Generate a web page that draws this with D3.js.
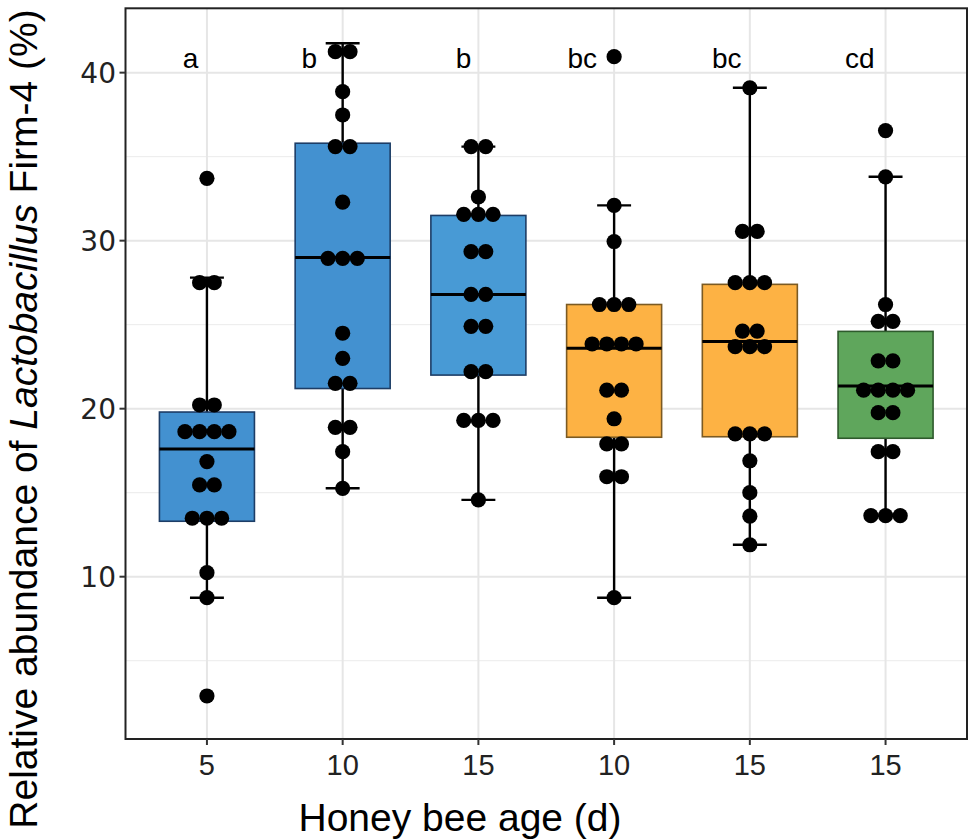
<!DOCTYPE html>
<html>
<head>
<meta charset="utf-8">
<script src="https://cdn.jsdelivr.net/npm/d3@7"></script>
<style>
  html, body { margin: 0; padding: 0; background: #fff; }
  svg { display: block; }
</style>
</head>
<body>
<svg id="chart" width="968" height="839"></svg>
<script>
// ---------- data ----------
const categories = ["5", "10", "15", "10", "15", "15"];
const groupColors = ["#4391d0", "#4391d0", "#489ad5", "#fdb244", "#fdb244", "#5fa65c"];
const groupEdges  = ["#1d3d66", "#1d3d66", "#1d3d66", "#7b5a23", "#7b5a23", "#2e5a2c"];

// box statistics: lower whisker, Q1, median, Q3, upper whisker
const whiskerLow  = [8.75, 15.26, 14.57, 8.75, 11.9, 13.63];
const q1          = [13.3, 21.2, 22.0, 18.3, 18.33, 18.24];
const medians     = [17.6, 29.0, 26.8, 23.6, 24.0, 21.35];
const q3          = [19.8, 35.8, 31.5, 26.2, 27.4, 24.6];
const whiskerHigh = [27.8, 41.75, 35.6, 32.1, 39.1, 33.8];

// dot-plot bins: [value, count] per group
const dots1 = [[33.71,1],[27.5,2],[20.22,2],[18.63,4],[16.85,1],[15.46,2],[13.48,3],[10.24,1],[8.75,1],[2.9,1]];
const dots2 = [[41.25,2],[38.87,1],[37.48,1],[35.6,2],[32.29,1],[28.95,3],[24.49,1],[23.0,1],[21.51,2],[18.89,2],[17.44,1],[15.26,1]];
const dots3 = [[35.6,2],[32.6,1],[31.57,3],[29.35,2],[26.8,2],[24.9,2],[22.2,2],[19.3,3],[14.57,1]];
const dots4 = [[40.95,1],[32.1,1],[29.95,1],[26.2,3],[23.85,4],[21.1,2],[19.4,1],[17.9,2],[15.95,2],[8.75,1]];
const dots5 = [[39.1,1],[30.55,2],[27.5,3],[24.62,2],[23.69,3],[18.5,3],[16.9,1],[15.0,1],[13.6,1],[11.9,1]];
const dots6 = [[36.55,1],[33.8,1],[26.2,1],[25.2,2],[22.85,2],[21.1,4],[19.76,2],[17.44,2],[13.63,3]];
const dotGroups = [dots1, dots2, dots3, dots4, dots5, dots6];

// significance letters, x in category units (1 = first group), y in data units
const letters = ["a", "b", "b", "bc", "bc", "cd"];
const letterX = [0.88, 1.755, 2.89, 3.765, 4.83, 5.81];
const letterY = 40.3;

const yTicks = [10, 20, 30, 40];
const yMinor = [5, 15, 25, 35];
const yDomain = [0.34, 43.83];

// ---------- layout ----------
const svg = d3.select("#chart");
const L = 125.5, R = 967, T = 8.3, B = 739;

const xLin = d3.scaleLinear().domain([0.4, 6.6]).range([L, R]);
const y = d3.scaleLinear().domain(yDomain).range([B, T]);
const step = xLin(2) - xLin(1);
const boxW = 0.7 * step;
const capW = 0.25 * step;
const dotR = 7.6;
const dotSpacing = 0.108 * step;

// panel background
svg.append("rect").attr("x", L).attr("y", T).attr("width", R - L).attr("height", B - T).attr("fill", "#fff");

// grid
const grid = svg.append("g");
grid.selectAll("line.minor").data(yMinor).join("line")
  .attr("x1", L).attr("x2", R).attr("y1", d => y(d)).attr("y2", d => y(d))
  .attr("stroke", "#ebebeb").attr("stroke-width", 1);
grid.selectAll("line.major").data(yTicks).join("line")
  .attr("x1", L).attr("x2", R).attr("y1", d => y(d)).attr("y2", d => y(d))
  .attr("stroke", "#e6e6e6").attr("stroke-width", 2);
grid.selectAll("line.vert").data(categories).join("line")
  .attr("x1", (d, i) => xLin(i + 1)).attr("x2", (d, i) => xLin(i + 1))
  .attr("y1", T).attr("y2", B)
  .attr("stroke", "#e6e6e6").attr("stroke-width", 2);

// whiskers (error bars)
const wg = svg.append("g").attr("stroke", "#000").attr("stroke-width", 2.4);
categories.forEach((c, i) => {
  const cx = xLin(i + 1);
  wg.append("line").attr("x1", cx).attr("x2", cx).attr("y1", y(whiskerLow[i])).attr("y2", y(whiskerHigh[i]));
  wg.append("line").attr("x1", cx - capW / 2).attr("x2", cx + capW / 2).attr("y1", y(whiskerLow[i])).attr("y2", y(whiskerLow[i]));
  wg.append("line").attr("x1", cx - capW / 2).attr("x2", cx + capW / 2).attr("y1", y(whiskerHigh[i])).attr("y2", y(whiskerHigh[i]));
});

// boxes
const bg = svg.append("g");
categories.forEach((c, i) => {
  const cx = xLin(i + 1);
  bg.append("rect")
    .attr("x", cx - boxW / 2).attr("width", boxW)
    .attr("y", y(q3[i])).attr("height", y(q1[i]) - y(q3[i]))
    .attr("fill", groupColors[i]).attr("stroke", groupEdges[i]).attr("stroke-width", 1.6);
  bg.append("line")
    .attr("x1", cx - boxW / 2).attr("x2", cx + boxW / 2)
    .attr("y1", y(medians[i])).attr("y2", y(medians[i]))
    .attr("stroke", "#000").attr("stroke-width", 3);
});

// dots
const dg = svg.append("g").attr("fill", "#000");
dotGroups.forEach((grp, i) => {
  const cx = xLin(i + 1);
  grp.forEach(([v, n]) => {
    for (let k = 0; k < n; k++) {
      dg.append("circle")
        .attr("cx", cx + (k - (n - 1) / 2) * dotSpacing)
        .attr("cy", y(v)).attr("r", dotR);
    }
  });
});

// letters
svg.append("g").selectAll("text").data(letters).join("text")
  .attr("x", (d, i) => xLin(letterX[i])).attr("y", y(letterY))
  .attr("text-anchor", "middle")
  .attr("font-family", "'Liberation Sans', Arial, sans-serif")
  .attr("font-size", 28).attr("fill", "#000")
  .text(d => d);

// panel border
svg.append("rect").attr("x", L).attr("y", T).attr("width", R - L).attr("height", B - T)
  .attr("fill", "none").attr("stroke", "#222").attr("stroke-width", 2);

// y axis
const ya = svg.append("g");
ya.selectAll("line").data(yTicks).join("line")
  .attr("x1", L - 6).attr("x2", L).attr("y1", d => y(d)).attr("y2", d => y(d))
  .attr("stroke", "#333").attr("stroke-width", 2);
ya.selectAll("text").data(yTicks).join("text")
  .attr("x", 116).attr("y", d => y(d)).attr("dy", "0.36em")
  .attr("text-anchor", "end")
  .attr("font-family", "'DejaVu Sans', Verdana, sans-serif")
  .attr("font-size", 28).attr("fill", "#222")
  .text(d => d);

// x axis
const xa = svg.append("g");
xa.selectAll("line").data(categories).join("line")
  .attr("x1", (d, i) => xLin(i + 1)).attr("x2", (d, i) => xLin(i + 1))
  .attr("y1", B).attr("y2", B + 6)
  .attr("stroke", "#333").attr("stroke-width", 2);
xa.selectAll("text").data(categories).join("text")
  .attr("x", (d, i) => xLin(i + 1)).attr("y", 775)
  .attr("text-anchor", "middle")
  .attr("font-family", "'Liberation Sans', Arial, sans-serif")
  .attr("font-size", 29).attr("fill", "#222")
  .text(d => d);

// axis titles
svg.append("text")
  .attr("x", 460).attr("y", 831)
  .attr("text-anchor", "middle")
  .attr("font-family", "'Liberation Sans', Arial, sans-serif")
  .attr("font-size", 39).attr("fill", "#000")
  .text("Honey bee age (d)");

const yt = svg.append("text")
  .attr("transform", "translate(37,419) rotate(-90)")
  .attr("text-anchor", "middle")
  .attr("font-family", "'Liberation Sans', Arial, sans-serif")
  .attr("font-size", 39).attr("fill", "#000");
yt.append("tspan").text("Relative abundance of ");
yt.append("tspan").attr("font-style", "italic").text("Lactobacillus");
yt.append("tspan").text(" Firm-4 (%)");
</script>
</body>
</html>
